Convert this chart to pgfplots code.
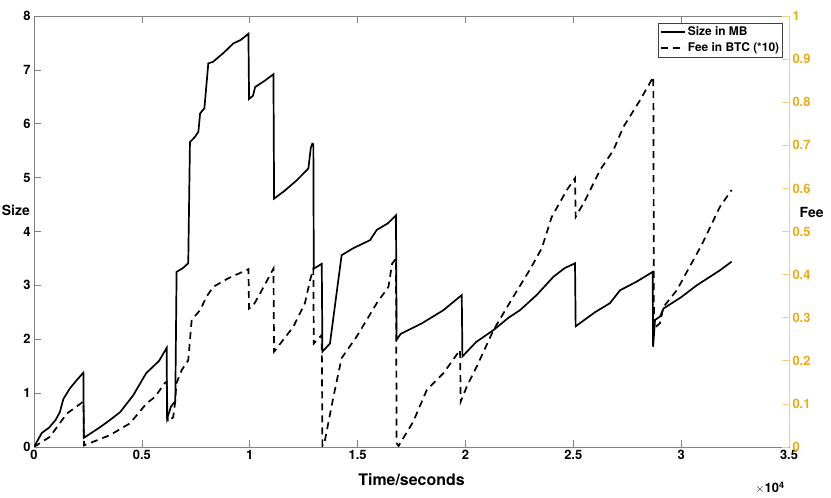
\documentclass[border=0pt]{standalone}
\usepackage{fontspec}
\setmainfont{TeX Gyre Heros}
\usepackage{pgfplots}
\pgfplotsset{compat=1.18}
\definecolor{feeorange}{RGB}{237,170,20}
\definecolor{axgray}{RGB}{130,130,130}

\begin{document}
\begin{tikzpicture}
\begin{axis}[name=main,
  scale only axis, width=755bp, height=431bp,
  xmin=0, xmax=3.5, ymin=0, ymax=8,
  xtick={0,0.5,1,1.5,2,2.5,3,3.5},
  xticklabels={0,0.5,1,1.5,2,2.5,3,3.5},
  ytick={0,1,2,3,4,5,6,7,8},
  ytick pos=left,
  tick align=inside,
  major tick length=7bp,
  axis line style={axgray, line width=0.6bp},
  tick style={axgray, line width=0.6bp},
  /pgf/number format/assume math mode=true,
  ticklabel style={font=\fontsize{13}{13}\selectfont\bfseries},
  xlabel={Time/seconds},
  xlabel style={at={(axis description cs:0.5,-0.0766)}, anchor=center,
    font=\fontsize{16}{16}\selectfont\bfseries},
  ylabel={Size},
  ylabel style={rotate=-90, at={(axis description cs:-0.024,0.55)}, anchor=center,
    font=\fontsize{14}{14}\selectfont\bfseries},
  legend style={at={(0.992,0.984)}, anchor=north east, draw=black!75,
    line width=0.6bp, font=\fontsize{12}{14}\selectfont\bfseries,
    inner sep=1.5bp, row sep=2bp},
  legend cell align=left,
  legend image code/.code={\draw[#1] (0bp,0bp) -- (24bp,0bp);},
]
\addplot[black, line width=1.7bp] coordinates {
(0,0) (0.036,0.26) (0.07,0.36) (0.10,0.50) (0.12,0.65) (0.136,0.89)
(0.167,1.09) (0.20,1.25) (0.229,1.38) (0.231,0.17) (0.30,0.35) (0.352,0.50)
(0.40,0.65) (0.46,0.96) (0.52,1.37) (0.58,1.60) (0.615,1.84) (0.617,0.53)
(0.635,0.75) (0.655,0.85) (0.661,3.25) (0.690,3.32) (0.715,3.41) (0.723,5.66)
(0.745,5.75) (0.762,5.85) (0.770,6.19) (0.790,6.29) (0.808,7.12) (0.830,7.15)
(0.880,7.32) (0.924,7.49) (0.960,7.56) (0.994,7.67) (0.997,6.46) (1.015,6.52)
(1.025,6.68) (1.070,6.80) (1.110,6.92) (1.113,4.61) (1.160,4.75) (1.218,4.95)
(1.272,5.17) (1.283,5.55) (1.290,5.63) (1.295,5.62) (1.297,3.31) (1.334,3.40)
(1.337,1.77) (1.372,1.92) (1.426,3.56) (1.480,3.69) (1.558,3.84) (1.589,4.03)
(1.640,4.15) (1.678,4.30) (1.681,1.99) (1.700,2.10) (1.800,2.30) (1.898,2.54)
(1.983,2.82) (1.986,1.68) (2.050,1.95) (2.130,2.17) (2.200,2.40) (2.253,2.54)
(2.330,2.82) (2.408,3.16) (2.460,3.32) (2.508,3.41) (2.511,2.24) (2.600,2.50)
(2.670,2.67) (2.717,2.91) (2.794,3.07) (2.868,3.25) (2.870,1.86) (2.879,2.36)
(2.902,2.42) (2.918,2.57) (3.000,2.78) (3.072,3.00) (3.180,3.28) (3.234,3.44)
};
\addlegendentry{Size in MB}
\addplot[black, line width=1.7bp, dash pattern=on 7bp off 5bp] coordinates {
(0,0) (0.074,0.19) (0.152,0.62) (0.221,0.82) (0.229,0.85) (0.232,0.03)
(0.352,0.22) (0.445,0.44) (0.522,0.81) (0.561,0.93) (0.607,1.19) (0.615,1.21)
(0.620,0.47) (0.645,0.55) (0.654,0.82) (0.660,1.18) (0.685,1.43) (0.715,1.61)
(0.731,2.36) (0.770,2.54) (0.800,2.79) (0.830,2.97) (0.900,3.13) (0.994,3.30)
(0.997,2.57) (1.017,2.63) (1.048,2.85) (1.110,3.31) (1.113,1.77) (1.202,2.23)
(1.256,2.67) (1.280,3.10) (1.295,3.31) (1.297,1.92) (1.334,2.08) (1.337,0.02)
(1.349,0.13) (1.388,0.93) (1.426,1.65) (1.496,2.05) (1.589,2.67) (1.643,2.97)
(1.660,3.40) (1.678,3.50) (1.681,0.07) (1.690,0.02) (1.758,0.47) (1.821,1.06)
(1.898,1.37) (1.975,1.80) (1.978,0.84) (2.006,1.12) (2.052,1.49) (2.130,2.17)
(2.222,2.79) (2.300,3.30) (2.354,3.69) (2.400,4.27) (2.470,4.77) (2.508,4.99)
(2.511,4.27) (2.555,4.58) (2.624,5.14) (2.686,5.51) (2.732,5.94) (2.810,6.44)
(2.871,6.87) (2.874,2.20) (2.902,2.30) (2.918,2.60) (2.980,2.91) (3.040,3.35)
(3.095,3.75) (3.180,4.46) (3.234,4.77)
};
\addlegendentry{Fee in BTC (*10)}
\end{axis}
\begin{axis}[
  scale only axis, width=755bp, height=431bp,
  xmin=0, xmax=3.5, ymin=0, ymax=1,
  axis x line=none, axis y line*=right,
  ytick={0,0.1,0.2,0.3,0.4,0.5,0.6,0.7,0.8,0.9,1},
  yticklabels={0,0.1,0.2,0.3,0.4,0.5,0.6,0.7,0.8,0.9,1},
  tick align=inside,
  major tick length=7bp,
  axis line style={feeorange!55, line width=0.6bp, -},
  tick style={feeorange!55, line width=0.6bp},
  /pgf/number format/assume math mode=true,
  yticklabel style={font=\fontsize{13}{13}\selectfont\bfseries, text=feeorange},
  ylabel={Fee},
  ylabel style={rotate=-90, at={(axis description cs:1.030,0.545)}, anchor=center,
    font=\fontsize{14}{14}\selectfont\bfseries},
]
\end{axis}
\node[font=\fontsize{13}{13}\selectfont\bfseries] at ([xshift=-19bp,yshift=-41bp]main.south east) {$\times$10\textsuperscript{4}};
\pgfresetboundingbox
\path[use as bounding box] ([shift={(-34bp,-51bp)}]main.south west) rectangle ([shift={(42bp,16bp)}]main.north east);
\end{tikzpicture}
\end{document}
